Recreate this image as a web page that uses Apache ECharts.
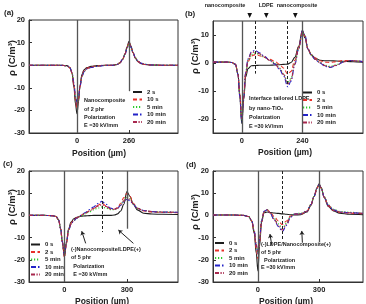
<!DOCTYPE html>
<html>
<head>
<meta charset="utf-8">
<script src="https://cdn.jsdelivr.net/npm/echarts@6/dist/echarts.min.js"></script>
<style>
  html, body { margin: 0; padding: 0; background: #fff; }
  #chart { width: 366px; height: 304px; }
</style>
</head>
<body>
<div id="chart"></div>
<script>
// panel (a) - nanocomposite 2 phr
const xA = [-240, -150, -80, -50, -35, -25, -15, -8, 0, 8, 15, 25, 35, 50, 70, 100, 140, 180, 200, 215, 228, 240, 250, 260, 270, 280, 292, 305, 320, 340, 370, 420, 505]
const a2s   = [0, 0, 0, -0.2, -1, -3.5, -10, -17, -21.5, -16, -9, -4, -2, -1, -0.5, -0.2, 0, 0, 0.3, 1, 2.5, 5, 8, 10.6, 8.5, 5.5, 3, 1.5, 0.7, 0.3, 0.1, 0, 0]
const a10s  = [0, 0, 0, -0.3, -1.2, -3.5, -9, -15, -19, -15, -9.5, -4.5, -2.5, -1.3, -0.7, -0.3, 0, 0, 0.3, 1.1, 2.6, 5, 7.8, 10, 8.3, 5.6, 3.2, 1.7, 0.8, 0.3, 0.1, 0, 0]
const a5min = [0, 0, 0, -0.3, -1.2, -3.3, -8.5, -14, -17.5, -14, -9.5, -5, -2.8, -1.5, -0.9, -0.4, -0.1, 0, 0.3, 1.1, 2.6, 4.8, 7.5, 9.5, 8, 5.6, 3.3, 1.8, 0.9, 0.4, 0.1, 0, 0]
const a10min= [0, 0, 0, -0.3, -1.2, -3.2, -8, -13.5, -16.5, -13.5, -9.3, -5, -2.9, -1.6, -1, -0.5, -0.1, 0, 0.3, 1.1, 2.6, 4.7, 7.4, 9.3, 7.9, 5.6, 3.3, 1.8, 0.9, 0.4, 0.1, 0, 0]
const a20min= [0, 0, 0, -0.3, -1.2, -3.4, -8.8, -14.8, -18, -14.5, -9.4, -4.8, -2.7, -1.5, -0.8, -0.4, -0.1, 0, 0.3, 1.1, 2.6, 4.9, 7.7, 9.8, 8.2, 5.6, 3.2, 1.7, 0.8, 0.3, 0.1, 0, 0]

// panel (b) - interface tailored LDPE
const xB = [-114, -60, -40, -25, -15, -8, 0, 8, 15, 25, 38, 53, 70, 90, 110, 130, 150, 165, 182, 195, 210, 225, 240, 250, 262, 275, 290, 310, 330, 350, 375, 400, 430, 455, 480]
const b0s   = [0.3, 0.3, 0.2, -0.5, -4, -12, -21.7, -13, -5, -2, -1, -0.9, -0.8, -0.8, -0.8, -0.7, -0.6, -0.5, -0.4, 0.2, 2, 6, 11.7, 9, 5, 3, 1.8, 1, 0.8, 0.8, 0.7, 0.6, 0.5, 0.4, 0.3]
const b2s   = [0.3, 0.3, 0.2, -0.5, -4, -11, -20, -12, -4, 0.5, 2.5, 3, 2.6, 2, 1.3, 0.6, -0.5, -1.8, -4, -3, 1, 5.5, 11, 9.5, 5, 3, 1.8, 0.8, 0.3, 0.2, 0.5, 0.9, 0.9, 0.7, 0.5]
const b5min = [0.3, 0.3, 0.2, -0.5, -4, -11, -20.5, -12, -4, 0.8, 3, 3.6, 3, 2, 1, 0, -1.8, -3.8, -7, -5.5, 0, 5, 11, 9.8, 5, 2.8, 1.4, 0.2, -0.8, -1.2, -0.6, 0.4, 0.9, 0.7, 0.5]
const b10min= [0.3, 0.3, 0.2, -0.5, -4, -12, -21, -12, -3.5, 1.5, 4, 4.5, 3.6, 2.3, 1, -0.3, -2.3, -4.5, -8.5, -6.5, -0.5, 5, 11.5, 10, 5, 2.8, 1.3, 0, -1.2, -1.6, -0.9, 0.3, 0.9, 0.7, 0.5]
const b20min= [0.3, 0.3, 0.2, -0.5, -4, -11, -20, -12, -3.8, 1.2, 3.6, 4.1, 3.3, 2.2, 1, -0.2, -2, -4, -7.5, -6, -0.3, 5, 11.2, 9.8, 5, 2.8, 1.4, 0.1, -1, -1.4, -0.8, 0.3, 0.9, 0.7, 0.5]

// panel (c) - (-)Nanocomposite/LDPE(+)
const xC = [-170, -100, -60, -40, -28, -18, -10, 0, 10, 20, 32, 45, 60, 80, 100, 120, 140, 160, 180, 200, 220, 240, 255, 270, 285, 300, 315, 330, 350, 380, 420, 470, 545]
const c0s   = [0, 0, -0.1, -0.5, -2, -6, -12, -18.5, -12, -6, -3, -1.5, -0.8, -0.4, -0.2, -0.1, 0, 0, 0, 0, 0, 0.2, 0.7, 2, 5, 10.7, 8.5, 5, 2.5, 1, 0.6, 0.5, 0.4]
const c2s   = [0, 0, -0.1, -0.5, -2, -6, -12, -19, -12.5, -6.5, -3.5, -2, -1, 0, 1, 2, 3.2, 4.6, 5.5, 4.3, 3, 2.8, 3.5, 5.5, 8, 10, 8.5, 5.5, 3.2, 2, 1.5, 1.3, 1.2]
const c5min = [0, 0, -0.1, -0.5, -2, -6, -12, -18, -12, -6.5, -3.8, -2.3, -1.3, -0.2, 0.8, 1.6, 2.5, 3.3, 3.8, 3.3, 2.6, 2.6, 3.2, 4.8, 6.8, 8.5, 7.5, 5.2, 3.2, 2.2, 1.7, 1.5, 1.4]
const c10min= [0, 0, -0.1, -0.5, -2, -6, -12, -18, -12, -6.8, -4, -2.4, -1.2, 0, 1.3, 2.6, 3.8, 5.3, 6.3, 5, 3.3, 2.8, 3.3, 4.6, 6.2, 7.3, 6.6, 5, 3.2, 2.2, 1.7, 1.5, 1.4]
const c20min= [0, 0, -0.1, -0.5, -2, -6, -12, -18.3, -12, -6.6, -3.8, -2.2, -1.1, 0, 1, 2, 3, 4.2, 4.8, 4, 2.9, 2.7, 3.2, 4.6, 6.5, 8, 7.2, 5.2, 3.2, 2.2, 1.7, 1.5, 1.4]

// panel (d) - (-)LDPE/Nanocomposite(+)
const xD = [-220, -120, -70, -45, -30, -18, -8, 0, 8, 18, 30, 45, 60, 80, 100, 120, 140, 160, 180, 210, 240, 260, 275, 290, 300, 310, 325, 345, 370, 400, 450, 515]
const d0s   = [0.2, 0.2, 0, -0.5, -2.5, -8, -17, -25, -14, -3, 1.2, 1.5, 1.3, 1.1, 0.9, 0.7, 0.5, 0.3, 0.2, 0.3, 1.5, 4.5, 8.5, 12.5, 14.2, 12.5, 8, 4, 2, 1, 0.5, 0.3]
const d2s   = [0.2, 0.2, 0, -0.5, -2.5, -7.5, -15, -19.5, -12, -3, 1.5, 2.5, 1.5, -0.5, -2.5, -4.2, -2.5, -0.3, 0.5, 0.6, 1.8, 4.8, 8.5, 12.3, 13.8, 12.3, 8.2, 4.3, 2.3, 1.4, 1, 0.7]
const d5min = [0.2, 0.2, 0, -0.5, -2.5, -7, -13.5, -17, -11, -2.5, 1.6, 2.6, 1.2, -1.5, -3.8, -5.8, -3.5, -0.5, 0.8, 1, 2, 5, 8.6, 12.2, 13.6, 12.3, 8.5, 4.8, 2.8, 1.8, 1.4, 1]
const d10min= [0.2, 0.2, 0, -0.5, -2.5, -7, -13.5, -17, -11, -2.5, 1.8, 2.5, 1, -2, -5, -7.3, -4.5, -0.8, 0.6, 0.8, 1.9, 4.9, 8.5, 12.2, 13.8, 12.3, 8.3, 4.5, 2.5, 1.5, 1.2, 0.9]
const d20min= [0.2, 0.2, 0, -0.5, -2.5, -7, -13, -16.5, -10.5, -2.5, 1.7, 2.5, 1.1, -1.8, -4.5, -6.6, -4, -0.6, 0.6, 0.8, 1.9, 4.9, 8.5, 12.2, 13.7, 12.3, 8.3, 4.5, 2.5, 1.5, 1.2, 0.9]

const namesA = ['2 s', '10 s', '5 min', '10 min', '20 min']
const namesBCD = ['0 s', '2 s', '5 min', '10 min', '20 min']

const xTicksA = [0, 260]
const xTicksB = [0, 240]
const xTicksC = [0, 300]
const xTicksD = [0, 300]
const yTicks = [-30, -20, -10, 0, 10, 20]
const yTicksB = [-20, -10, 0, 10]

const lineStyles = [
  {color: '#1c1c1c', type: 'solid'},
  {color: '#e8302a', type: [4, 2.5]},
  {color: '#2ccc2c', type: [1.2, 1.8]},
  {color: '#2323c8', type: [5, 2, 1.5, 2]},
  {color: '#a8284e', type: [4, 1.5, 1.2, 1.5, 1.2, 1.5]}
]

const smallFont = 'bold 5.5px "Liberation Sans", Arial, sans-serif'
const tickFont = {fontFamily: '"Liberation Sans", Arial, sans-serif', fontWeight: 'bold', fontSize: 7.5, color: '#222'}

function vline(x, y1, y2, dashed) {
  return [{coord: [x, y1], lineStyle: {color: dashed ? '#222' : '#555', width: dashed ? 1 : 1.3, type: dashed ? [3, 2] : 'solid'}}, {coord: [x, y2]}]
}
function arrow(x1, y1, x2, y2) {
  return [{coord: [x1, y1], symbol: 'none', lineStyle: {color: '#222', width: 1, type: 'solid'}}, {coord: [x2, y2], symbol: 'arrow'}]
}

function panelSeries(tag, gi, names, xs, ys, marks) {
  return ys.map((vals, i) => {
    let s = {
      name: tag + ':' + names[i],
      type: 'line',
      xAxisIndex: gi,
      yAxisIndex: gi,
      data: xs.map((x, k) => [x, vals[k]]),
      symbol: 'none',
      smooth: 0.35,
      smoothMonotone: 'x',
      lineStyle: {width: 1.1, color: lineStyles[i].color, type: lineStyles[i].type},
      itemStyle: {color: lineStyles[i].color},
      animation: false,
      z: 3 + (i == 0 ? 0 : 1)
    }
    if (i == 0 && marks) {
      s.markLine = {silent: true, symbol: ['none', 'none'], symbolSize: 4, label: {show: false}, animation: false, data: marks}
    }
    return s
  })
}

const grids = [
  {left: 29, top: 20, width: 149, height: 113},
  {left: 213, top: 21, width: 150, height: 112},
  {left: 29, top: 171, width: 149, height: 111},
  {left: 213, top: 171, width: 150, height: 111}
].map(g => Object.assign(g, {show: true, borderColor: '#333', borderWidth: 1, backgroundColor: 'transparent'}))

const xRanges = [[-240, 505], [-114, 480], [-170, 545], [-220, 515]]
const yRanges = [[-30, 20], [-25, 15], [-30, 20], [-30, 20]]
const xTickSets = [xTicksA, xTicksB, xTicksC, xTicksD]
const yTickSets = [yTicks, yTicksB, yTicks, yTicks]

const xAxes = xRanges.map((r, i) => ({
  type: 'value', gridIndex: i, min: r[0], max: r[1],
  axisLine: {show: true, onZero: false, lineStyle: {color: '#333'}},
  axisTick: {show: true, inside: true, length: 3, customValues: xTickSets[i], lineStyle: {color: '#333'}},
  axisLabel: Object.assign({customValues: xTickSets[i], margin: 4}, tickFont),
  splitLine: {show: false}
}))
const yAxes = yRanges.map((r, i) => ({
  type: 'value', gridIndex: i, min: r[0], max: r[1],
  axisLine: {show: true, onZero: false, lineStyle: {color: '#333'}},
  axisTick: {show: true, inside: true, length: 3, customValues: yTickSets[i], lineStyle: {color: '#333'}},
  axisLabel: Object.assign({customValues: yTickSets[i], margin: 4}, tickFont),
  splitLine: {show: false}
}))

let series = []
series = series.concat(panelSeries('a', 0, namesA, xA, [a2s, a10s, a5min, a10min, a20min], [
  vline(0, 20, -30), vline(260, 20, -11.5)
]))
series = series.concat(panelSeries('b', 1, namesBCD, xB, [b0s, b2s, b5min, b10min, b20min], [
  vline(0, 15, -25), vline(240, 15, -25), vline(53, 15, -3.8, true), vline(182, 15, -8, true)
]))
series = series.concat(panelSeries('c', 2, namesBCD, xC, [c0s, c2s, c5min, c10min, c20min], [
  vline(0, 20, -30), vline(300, 20, -6), vline(180, 20, -7.5, true),
  arrow(102, -12.6, 83, -7.1), arrow(331, -12.6, 259, -6.6)
]))
series = series.concat(panelSeries('d', 3, namesBCD, xD, [d0s, d2s, d5min, d10min, d20min], [
  vline(0, 20, -30), vline(300, 20, -12), vline(120, 20, -11, true),
  arrow(68, -13.4, 59, -8.4), arrow(218, -12.3, 215, -7)
]))

function legendFor(tag, names, left, top) {
  return {
    data: names.map(n => tag + ':' + n),
    orient: 'vertical', left: left, top: top, padding: 0,
    itemWidth: 9, itemHeight: 6, itemGap: 1.5,
    selectedMode: false,
    formatter: n => n.slice(2),
    itemStyle: {color: 'transparent', borderColor: 'transparent', borderWidth: 0, opacity: 0},
    textStyle: {fontFamily: '"Liberation Sans", Arial, sans-serif', fontWeight: 'bold', fontSize: 6, color: '#222'}
  }
}
const legends = [
  legendFor('a', namesA, 132, 89),
  legendFor('b', namesBCD, 302, 89.5),
  legendFor('c', namesBCD, 30, 241.5),
  legendFor('d', namesBCD, 214, 240)
]

function txt(s, x, y, font, align) {
  return {type: 'text', x: x, y: y, silent: true, style: {text: s, font: font || smallFont, fill: '#222', align: align || 'left', verticalAlign: 'middle'}}
}
function tri(x, y) {
  return {type: 'polygon', x: x, y: y, silent: true, shape: {points: [[-2.3, -2.6], [2.3, -2.6], [0, 2.6]]}, style: {fill: '#111'}}
}
const bigFont = 'bold 8.5px "Liberation Sans", Arial, sans-serif'
const yFont = 'bold 9.5px "Liberation Sans", Arial, sans-serif'
const labFont = 'bold 8px "Liberation Sans", Arial, sans-serif'
function yName(x, y) {
  return {type: 'text', x: x, y: y, rotation: Math.PI / 2, silent: true, style: {text: 'ρ (C/m³)', font: yFont, fill: '#222', align: 'center', verticalAlign: 'middle'}}
}

const graphic = [
  txt('(a)', 4, 13, labFont), txt('(b)', 185, 14, labFont), txt('(c)', 3, 164, labFont), txt('(d)', 186, 165, labFont),
  txt('Position (µm)', 99, 154, bigFont, 'center'), txt('Position (µm)', 285, 153, bigFont, 'center'),
  txt('Position (µm)', 102, 302, bigFont, 'center'), txt('Position (µm)', 286, 302, bigFont, 'center'),
  yName(12, 58), yName(195, 56), yName(12, 207), yName(195, 212),
  txt('Nanocomposite', 84, 100.5), txt('of 2 phr', 84, 109), txt('Polarization', 84, 117.3), txt('E =30 kV/mm', 84, 125.7),
  txt('nanocomposite', 225, 5, null, 'center'), txt('LDPE', 266, 5, null, 'center'), txt('nanocomposite', 297, 5, null, 'center'),
  tri(249.7, 15.5), tri(266.3, 15.5), tri(295.3, 15.5),
  txt('Interface tailored LDPE', 249, 98.7), txt('by nano-TiO₂', 249, 108.3), txt('Polarization', 249, 117.3), txt('E =30 kV/mm', 249, 126),
  txt('(-)Nanocomposite/LDPE(+)', 71, 249.3), txt('of 5 phr', 71, 257.3), txt('Polarization', 73.3, 266), txt('E =30 kV/mm', 73.3, 274.7),
  txt('(-)LDPE/Nanocomposite(+)', 261, 244), txt('of 5 phr', 261, 252), txt('Polarization', 264, 260), txt('E =30 kV/mm', 261, 267.5)
]

const chart = echarts.init(document.getElementById('chart'), null, {renderer: 'canvas'})
chart.setOption({
  animation: false,
  backgroundColor: '#fff',
  grid: grids,
  xAxis: xAxes,
  yAxis: yAxes,
  legend: legends,
  series: series,
  graphic: graphic
})
</script>
</body>
</html>
